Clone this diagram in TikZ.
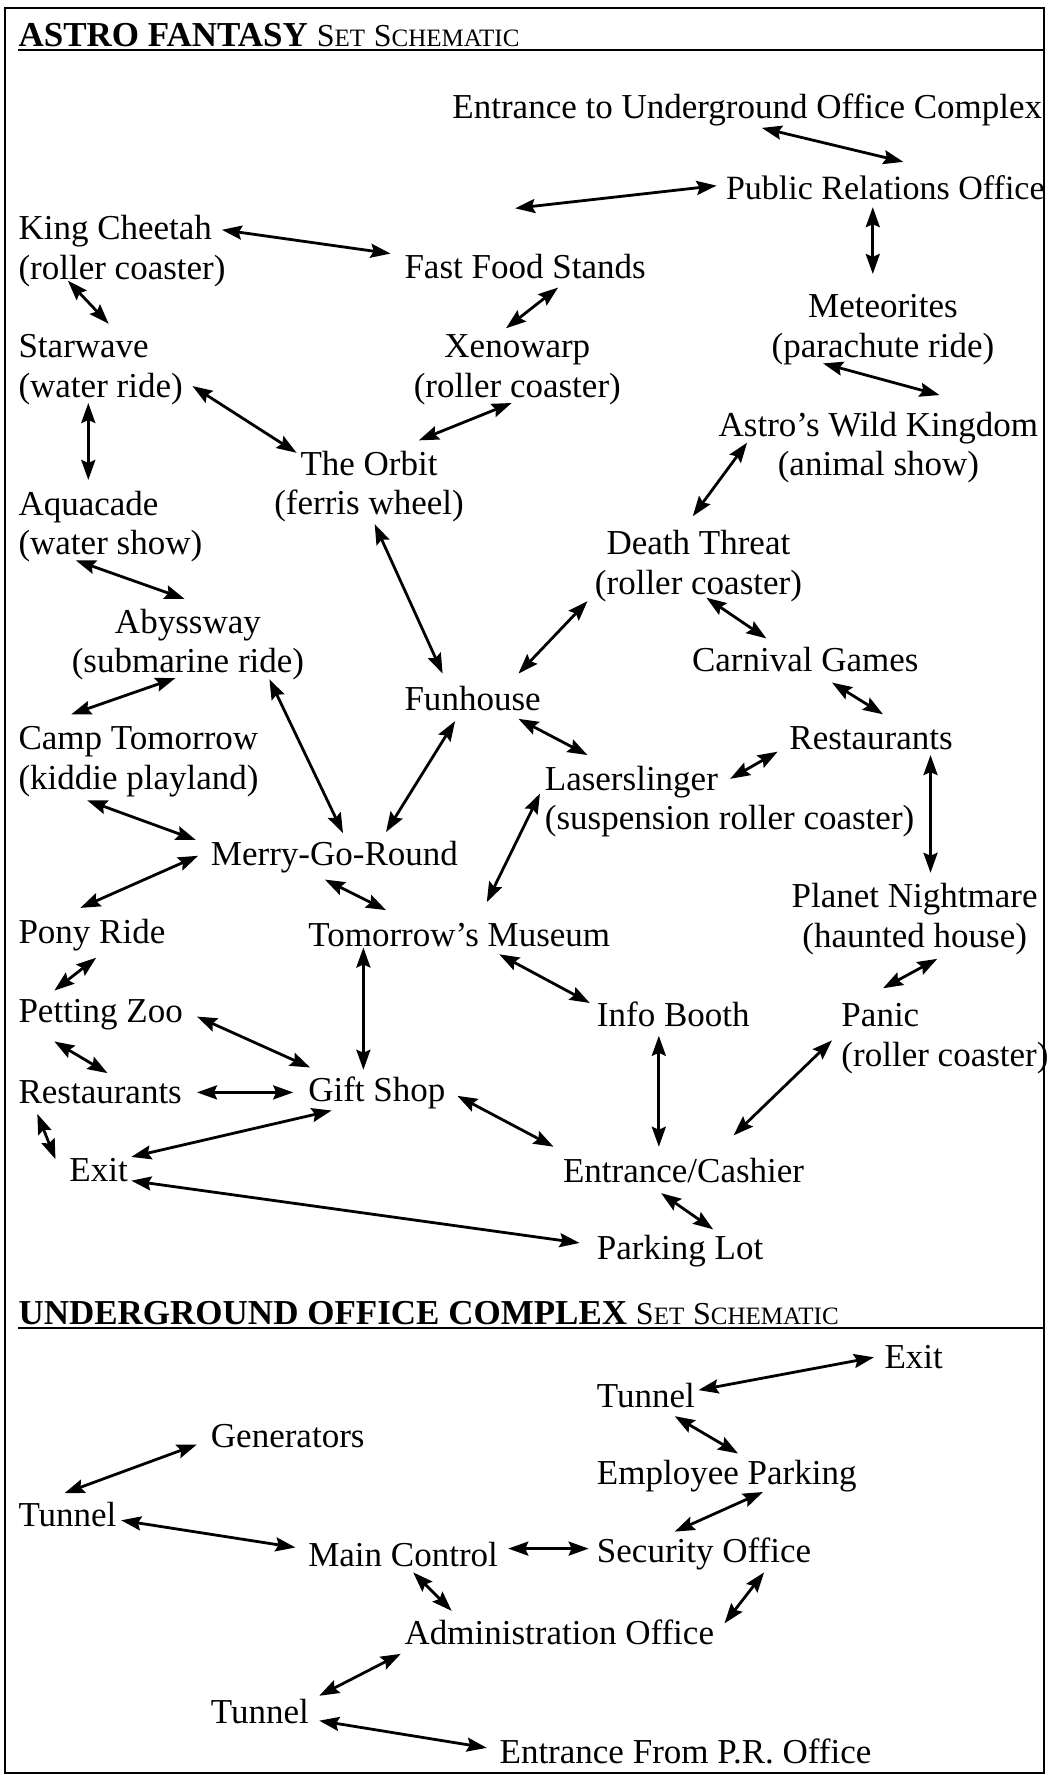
\documentclass[tikz,border=0pt]{standalone}
\usepackage{fontspec}
\setmainfont{Liberation Serif}
\usetikzlibrary{arrows.meta}
\newcommand\lnk[4]{\draw[arr] ([shift={(#2)}]#1) -- ([shift={(#4)}]#3);}
\newcommand\bigc[1]{{\fontsize{16}{16}\selectfont #1}}
\newcommand\smc[1]{{\fontsize{12.5}{12.5}\selectfont #1}}
\newcommand\setsch{\bigc{S}\smc{ET} \bigc{S}\smc{CHEMATIC}}
\begin{document}
\begin{tikzpicture}[x=0.5659pt,y=-0.5659pt,
  lbl/.style={inner sep=0pt, font=\fontsize{17.5}{19.8}\selectfont},
  nl/.style={lbl, anchor=west, align=left},
  nc/.style={lbl, anchor=center, align=center},
  ne/.style={lbl, anchor=east, align=left},
  hd/.style={inner sep=0pt, anchor=base west, font=\fontsize{17.5}{17.5}\selectfont},
  arr/.style={line width=1.4pt, {Stealth[length=10pt,width=7pt,inset=1.5pt]}-{Stealth[length=10pt,width=7pt,inset=1.5pt]}}]
\useasboundingbox (0,0) rectangle (926,1568);
\draw[line width=1.2pt] (4.5,7) rectangle (922,1566);
% headers
\node[hd] (h1) at (16,41) {\textbf{ASTRO FANTASY} \setsch};
\draw[line width=1pt] (16,44) -- (922,44);
\node[hd] (h2) at (16,1170) {\textbf{UNDERGROUND OFFICE COMPLEX} \setsch};
\draw[line width=1pt] (16,1173) -- (922,1173);
% top nodes
\node[ne] (euoc) at (921,97) {Entrance to Underground Office Complex};
\node[nl, font=\fontsize{17}{19.8}\selectfont] (pro) at (641,166) {Public Relations Office};
\node[nl] (kc) at (16,222) {King Cheetah\\(roller coaster)};
\node[nl] (ffs) at (357,235) {Fast Food Stands};
\node[nc] (met) at (780,291) {Meteorites\\(parachute ride)};
\node[nl] (sw) at (16,326.5) {Starwave\\(water ride)};
\node[nc] (xw) at (457,326.5) {Xenowarp\\(roller coaster)};
\node[nc] (awk) at (776,395.5) {Astro’s Wild Kingdom\\(animal show)};
\node[nc] (orb) at (326,430) {The Orbit\\(ferris wheel)};
\node[nl] (aq) at (16,465) {Aquacade\\(water show)};
\node[nc] (dt) at (617,500) {Death Threat\\(roller coaster)};
\node[nc] (aby) at (166,569.5) {Abyssway\\(submarine ride)};
\node[nl] (cg) at (611,583) {Carnival Games};
\node[nl] (fh) at (357,617) {Funhouse};
\node[nl] (ct) at (16,673) {Camp Tomorrow\\(kiddie playland)};
\node[nl] (rr) at (697,652) {Restaurants};
\node[nl] (ls) at (481,708) {Laserslinger\\(suspension roller coaster)};
\node[nl] (mgr) at (186,757) {Merry-Go-Round};
\node[nc] (pn) at (808,812) {Planet Nightmare\\(haunted house)};
\node[nl] (pony) at (16,826) {Pony Ride};
\node[nl] (tm) at (272,826) {Tomorrow’s Museum};
\node[nl] (pz) at (16,896) {Petting Zoo};
\node[nl] (ib) at (527,896) {Info Booth};
\node[nl] (pan) at (743,917.5) {Panic\\(roller coaster)};
\node[nl] (rl) at (16,965) {Restaurants};
\node[nl] (gs) at (272,965) {Gift Shop};
\node[nl] (ex) at (61,1034) {Exit};
\node[nl] (ec) at (497,1034) {Entrance/Cashier};
\node[nl] (pl) at (527,1105) {Parking Lot};
% bottom nodes
\node[nl] (uex) at (781,1199) {Exit};
\node[nl] (ut1) at (527,1233) {Tunnel};
\node[nl] (gen) at (186,1269) {Generators};
\node[nl] (ep) at (527,1304) {Employee Parking};
\node[nl] (ut2) at (16,1338) {Tunnel};
\node[nl] (mc) at (272,1373) {Main Control};
\node[nl] (so) at (527,1373) {Security Office};
\node[nl] (ao) at (357,1442) {Administration Office};
\node[nl] (ut3) at (186,1512) {Tunnel};
\node[nl] (epr) at (441,1547) {Entrance From P.R. Office};
% top links
\lnk{euoc.east}{-248,16}{pro.west}{157,-23}
\lnk{ffs.west}{98,-51}{pro.west}{-8,-2}
\lnk{kc.west}{180,-19}{ffs.west}{-12,-11}
\lnk{pro.west}{130,17}{met.center}{-9,-49}
\lnk{kc.west}{44,26}{sw.west}{80,-40.5}
\lnk{ffs.west}{136,19}{xw.center}{-10,-36.5}
\lnk{met.center}{-53,30}{awk.center}{54,-46.5}
\lnk{sw.west}{154,14.5}{orb.center}{-64,-30}
\lnk{xw.center}{-5,29.5}{orb.center}{44,-41}
\lnk{sw.west}{62,29.5}{aq.west}{62,-41}
\lnk{awk.center}{-116,-4.5}{dt.center}{-5,-44}
\lnk{aq.west}{51,30}{aby.center}{-3,-40.5}
\lnk{orb.center}{5,33}{fh.west}{34,-22}
\lnk{dt.center}{-98,31}{fh.west}{101,-22}
\lnk{dt.center}{7,28}{cg.west}{66,-19}
\lnk{aby.center}{-11,29.5}{ct.west}{47,-42}
\lnk{aby.center}{72,30.5}{mgr.west}{117,-21}
\lnk{cg.west}{124,20}{rr.west}{83,-21}
\lnk{fh.west}{101,18}{ls.west}{38,-41}
\lnk{rr.west}{-10,12}{ls.west}{164,-20}
\lnk{fh.west}{45,20}{mgr.west}{155,-22}
\lnk{rr.west}{125,15}{pn.center}{14,-41}
\lnk{ls.west}{-4,-7}{tm.west}{158,-29}
\lnk{ct.west}{61,34}{mgr.west}{-13,-15}
\lnk{mgr.west}{-11,-1}{pony.west}{55,-24}
\lnk{mgr.west}{101,20}{tm.west}{69,-22}
\lnk{pn.center}{20,35}{pan.west}{37,-44.5}
\lnk{pony.west}{69,20}{pz.west}{32,-21}
\lnk{tm.west}{49,11}{gs.west}{49,-20}
\lnk{tm.west}{169,17}{ib.west}{-6,-10}
\lnk{pz.west}{158,2}{gs.west}{2,-22}
\lnk{pz.west}{32,24}{rl.west}{79,-17}
\lnk{ib.west}{55,19}{ec.west}{85,-21}
\lnk{pan.west}{-8,1.5}{ec.west}{151,-31}
\lnk{rl.west}{158,0}{gs.west}{-13,0}
\lnk{rl.west}{17,19}{ex.west}{-12,-10}
\lnk{gs.west}{21,16}{ex.west}{55,-12}
\lnk{gs.west}{132,3}{ec.west}{-8,-21}
\lnk{ex.west}{55,9}{pl.west}{-15,-7}
\lnk{ec.west}{87,20}{pl.west}{103,-19}
% bottom links
\lnk{ut1.west}{90,-5}{uex.west}{-9,0}
\lnk{ut1.west}{69,18}{ep.west}{125,-20}
\lnk{gen.west}{-12,7}{ut2.west}{41,-19}
\lnk{ut2.west}{91,5}{mc.west}{-11,-6}
\lnk{ep.west}{147,14}{so.west}{69,-20}
\lnk{mc.west}{177,-5}{so.west}{-7,-5}
\lnk{mc.west}{93,16}{ao.west}{42,-19}
\lnk{so.west}{148,16}{ao.west}{283,-8}
\lnk{ao.west}{-3,19}{ut3.west}{96,-14}
\lnk{ut3.west}{96,8}{epr.west}{-11,-3}
\end{tikzpicture}
\end{document}
